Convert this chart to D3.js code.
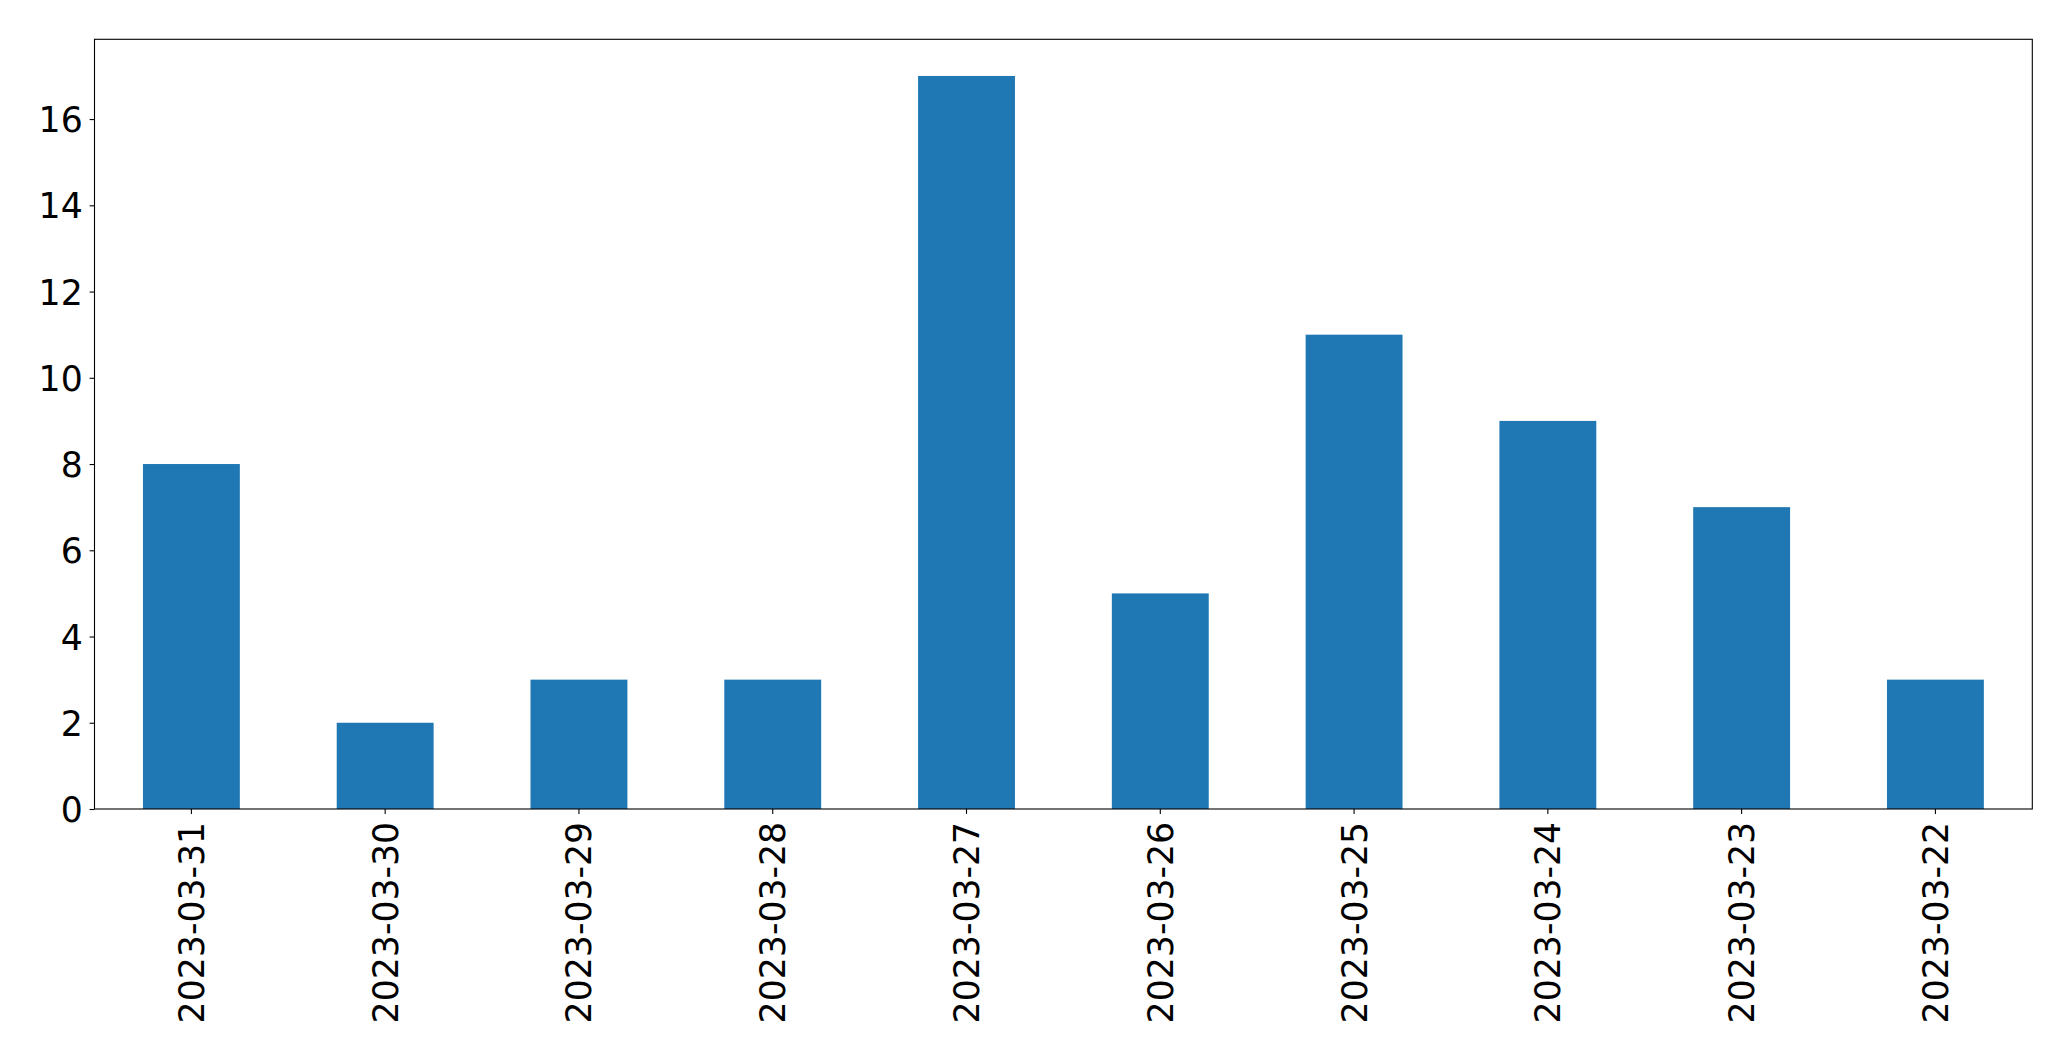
<!DOCTYPE html>
<html>
<head>
<meta charset="utf-8">
<script src="https://cdn.jsdelivr.net/npm/d3@7"></script>
<style>
  html, body { margin: 0; padding: 0; background: #fff; }
  svg { display: block; }
  text { font-family: "DejaVu Sans", sans-serif; fill: #000; }
</style>
</head>
<body>
<svg id="chart" width="2071" height="1061"></svg>
<script>
const categories = ["2023-03-31", "2023-03-30", "2023-03-29", "2023-03-28", "2023-03-27",
                    "2023-03-26", "2023-03-25", "2023-03-24", "2023-03-23", "2023-03-22"];
const values = [8, 2, 3, 3, 17, 5, 11, 9, 7, 3];
const yTicks = [0, 2, 4, 6, 8, 10, 12, 14, 16];

const W = 2071, H = 1061;
const margin = { left: 94.5, top: 39.3, right: W - 2032.3, bottom: H - 809 };
const fontSize = 34.7;
const tickLen = 4.9;
const pad = 4.9;

const svg = d3.select("#chart");
const g = svg.append("g");

const x = d3.scaleBand()
  .domain(categories)
  .range([margin.left, W - margin.right])
  .paddingInner(0.5)
  .paddingOuter(0.25)
  .align(0.5);

const y = d3.scaleLinear()
  .domain([0, d3.max(values) * 1.05])
  .range([H - margin.bottom, margin.top]);

// bars
g.selectAll("rect.bar")
  .data(values)
  .join("rect")
  .attr("class", "bar")
  .attr("x", (d, i) => x(categories[i]))
  .attr("width", x.bandwidth())
  .attr("y", d => y(d))
  .attr("height", d => y(0) - y(d))
  .attr("fill", "#1f77b4");

// y axis
const yAxis = d3.axisLeft(y).tickValues(yTicks).tickFormat(d3.format("d"))
  .tickSize(tickLen).tickPadding(pad + 2);
const ya = g.append("g").attr("transform", `translate(${margin.left},0)`).call(yAxis);
ya.select(".domain").remove();
ya.selectAll(".tick line").attr("stroke", "#000").attr("stroke-width", 1.1);
ya.selectAll(".tick text").style("font-size", fontSize + "px").attr("dy", "0.36em");

// x axis
const xAxis = d3.axisBottom(x).tickSize(tickLen).tickPadding(pad);
const xa = g.append("g").attr("transform", `translate(0,${H - margin.bottom})`).call(xAxis);
xa.select(".domain").remove();
xa.selectAll(".tick line").attr("stroke", "#000").attr("stroke-width", 1.1);
xa.selectAll(".tick text")
  .style("font-size", fontSize + "px")
  .attr("text-anchor", "end")
  .attr("x", 0)
  .attr("y", 0)
  .attr("dy", "0.36em")
  .attr("transform", `translate(0,${tickLen + pad + 3}) rotate(-90)`);

// frame
g.append("rect")
  .attr("x", margin.left)
  .attr("y", margin.top)
  .attr("width", W - margin.right - margin.left)
  .attr("height", H - margin.bottom - margin.top)
  .attr("fill", "none")
  .attr("stroke", "#000")
  .attr("stroke-width", 1.1);
</script>
</body>
</html>
